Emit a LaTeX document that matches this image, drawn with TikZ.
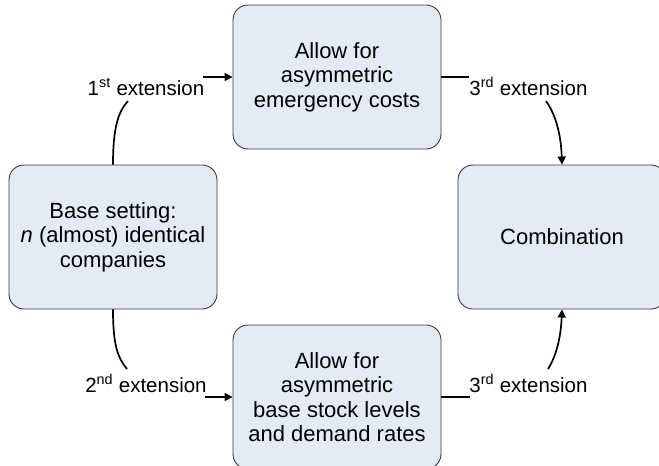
\documentclass[tikz,border=0pt]{standalone}
\usepackage{fontspec}
\setmainfont{Liberation Sans}
\usetikzlibrary{arrows.meta}
\definecolor{boxfill}{RGB}{228,235,246}
\definecolor{boxline}{RGB}{55,55,55}
\tikzset{
  box/.style={draw=boxline, fill=boxfill, line width=0.9pt, rounded corners=15pt,
    minimum width=208pt, minimum height=144pt, align=center, inner sep=0pt,
    font=\fontsize{22}{24.5}\selectfont},
  lbl/.style={inner sep=0pt, anchor=base, font=\fontsize{20.5}{24}\selectfont},
  conn/.style={line width=1.7pt, black},
  arr/.style={conn, -{Triangle[length=8pt,width=8pt]}}
}
\begin{document}
\begin{tikzpicture}[x=1pt,y=-1pt]
\useasboundingbox (0,0) rectangle (659,466);
\clip (0,0) rectangle (659,466);
\node[box] (T) at (337,77) {Allow for\\asymmetric\\emergency costs};
\node[box] (L) at (113,237) {Base setting:\\\textit{n} (almost) identical\\companies};
\node[box] (C) at (562,237) {Combination};
\node[box] (B) at (337,397) {Allow for\\asymmetric\\base stock levels\\and demand rates};

\node[lbl] (l1) at (146,95) {1\textsuperscript{st} extension};
\node[lbl] (l3a) at (528.5,95) {3\textsuperscript{rd} extension};
\node[lbl] (l2) at (146,392) {2\textsuperscript{nd} extension};
\node[lbl] (l3b) at (528.5,392) {3\textsuperscript{rd} extension};

\coordinate (c1) at (128,101);
\coordinate (a1) at (203,77);
\coordinate (c3a) at (469,77);
\coordinate (d3a) at (546,101);
\coordinate (c2) at (127,369);
\coordinate (a2) at (205,397);
\coordinate (c3b) at (470,397);
\coordinate (d3b) at (548,369);

\draw[conn] (L.north) .. controls (113,128) and (118,112) .. (c1);
\draw[arr] (a1) -- (T.west);
\draw[conn] (T.east) -- (c3a);
\draw[arr] (d3a) .. controls (556,115) and (561,135) .. (C.north);
\draw[conn] (L.south) .. controls (113,346) and (118,358) .. (c2);
\draw[arr] (a2) -- (B.west);
\draw[conn] (B.east) -- (c3b);
\draw[arr] (d3b) .. controls (557,355) and (561,335) .. (C.south);
\end{tikzpicture}
\end{document}
